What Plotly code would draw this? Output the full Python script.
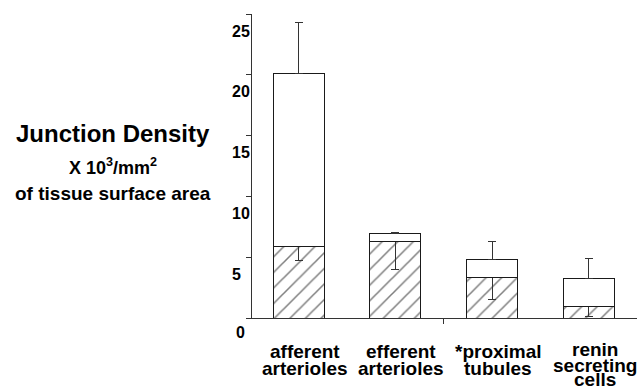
import plotly.graph_objects as go

# ---- data ----
categories = [["afferent", "arterioles"],
              ["efferent", "arterioles"],
              ["*proximal", "tubules"],
              ["renin", "secreting", "cells"]]
hatched_values = [5.90, 6.26, 3.29, 0.93]
total_values = [20.08, 6.94, 4.80, 3.23]
hatched_err_minus = [1.17, 2.23, 1.78, 0.80]
total_err_plus = [4.25, 0.08, 1.46, 1.68]
y_tick_values = [0, 5, 10, 15, 20, 25]
y_tick_labels = ["0", "5", "10", "15", "20", "25"]
y_title_lines = ["Junction Density",
                 "X 10<sup>3</sup>/mm<sup>2</sup>",
                 "of tissue surface area"]

top_values = [t - h for t, h in zip(total_values, hatched_values)]
x_pos = list(range(len(categories)))

W, H = 642, 392
ML, MR, MT, MB = 252, 5, 14, 74
PW, PH = W - ML - MR, H - MT - MB
FONT = "Liberation Sans, Arial, Helvetica, sans-serif"
INK = "#1a1a1a"


def px_x(px):
    return (px - ML) / PW


def px_y(py):
    return 1 - (py - MT) / PH


fig = go.Figure()
fig.add_trace(go.Bar(
    x=x_pos, y=hatched_values, width=0.528,
    marker=dict(color="white", line=dict(color=INK, width=1),
                pattern=dict(shape="/", size=11, solidity=0.14,
                             fgcolor="black", bgcolor="white")),
    error_y=dict(type="data", symmetric=False,
                 array=[0] * len(hatched_values), arrayminus=hatched_err_minus,
                 color="#333333", thickness=1, width=4),
    showlegend=False, hoverinfo="skip"))
fig.add_trace(go.Bar(
    x=x_pos, y=top_values, width=0.528,
    marker=dict(color="white", line=dict(color=INK, width=1)),
    error_y=dict(type="data", symmetric=False,
                 array=total_err_plus, arrayminus=[0] * len(top_values),
                 color="#333333", thickness=1, width=4),
    showlegend=False, hoverinfo="skip"))

annotations = []
# y tick labels (offset below their ticks as in the reference)
for v, lab in zip(y_tick_values, y_tick_labels):
    if v == 0:
        annotations.append(dict(x=px_x(240.5), xref="paper", xanchor="center",
                                y=v, yref="y", yanchor="middle", yshift=-14,
                                text=lab, showarrow=False,
                                font=dict(family=FONT, size=16, color="black", weight="bold")))
    else:
        annotations.append(dict(x=px_x(230), xref="paper", xanchor="left",
                                y=v, yref="y", yanchor="middle", yshift=-17,
                                text=lab, showarrow=False,
                                font=dict(family=FONT, size=16, color="black", weight="bold")))

# category labels, one annotation per line
two_line_shifts = [-33.5, -50.0]
three_line_shifts = [-31.5, -47.0, -61.5]
for i, lines in zip(x_pos, categories):
    shifts = three_line_shifts if len(lines) == 3 else two_line_shifts
    for line, ys in zip(lines, shifts):
        annotations.append(dict(x=i, xref="x", xanchor="center", xshift=6,
                                y=0, yref="y", yanchor="middle", yshift=ys,
                                text=line, showarrow=False,
                                font=dict(family=FONT, size=19, color="black", weight="bold")))

# y title lines
title_specs = [(133.3, 24), (166.5, 18), (193.2, 19)]
for line, (cy, fs) in zip(y_title_lines, title_specs):
    annotations.append(dict(x=px_x(113), xref="paper", xanchor="center",
                            y=px_y(cy), yref="paper", yanchor="middle",
                            text=line, showarrow=False,
                            font=dict(family=FONT, size=fs, color="black", weight="bold")))

fig.update_layout(
    width=W, height=H,
    margin=dict(l=ML, r=MR, t=MT, b=MB, pad=0),
    barmode="stack",
    plot_bgcolor="white", paper_bgcolor="white",
    annotations=annotations,
    xaxis=dict(range=[-0.4845, 3.5], showline=True, linecolor="#333333", linewidth=1,
               tickvals=[1.5], ticktext=[""], ticks="outside", ticklen=5,
               tickcolor="#333333", showgrid=False, zeroline=False, fixedrange=True),
    yaxis=dict(range=[0, 25], showline=True, linecolor="#333333", linewidth=1,
               tickvals=y_tick_values, ticks="outside", ticklen=5,
               tickcolor="#333333", showticklabels=False,
               showgrid=False, zeroline=False, fixedrange=True),
)

fig.write_html("out.html",
               config={"displayModeBar": False, "staticPlot": True},
               post_script="document.body.style.margin='0';document.body.style.padding='0';"
                           "document.body.style.overflow='hidden';")
